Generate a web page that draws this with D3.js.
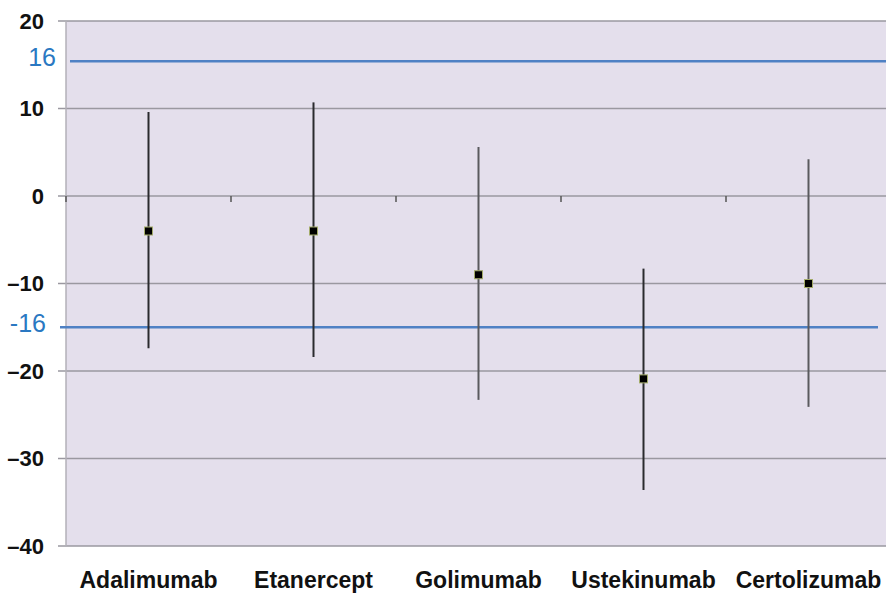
<!DOCTYPE html>
<html>
<head>
<meta charset="utf-8">
<style>
  body { margin: 0; background: #fff; }
  text { font-family: "Liberation Sans", Arial, sans-serif; }
</style>
</head>
<body>
<script src="https://cdn.jsdelivr.net/npm/d3@7"></script>
<script>

    const drugs = ["Adalimumab", "Etanercept", "Golimumab", "Ustekinumab", "Certolizumab"],
          point = [-4, -4, -9, -20.9, -10],
          upper = [9.6, 10.7, 5.6, -8.3, 4.2],
          lower = [-17.4, -18.4, -23.3, -33.6, -24.1],
          yTicks = [20, 10, 0, -10, -20, -30, -40];

    // margin lines, labelled +/-16 (drawn where the picture shows them)
    const limitValues = [15.4, -15.0],
          limitLabels = ["16", "-16"];

    const width = 886, height = 594;
    const plotLeft = 66, plotRight = 891, plotTop = 21, plotBottom = 546;

    const svg = d3.select("body").append("svg")
        .attr("width", width)
        .attr("height", height);

    const x = d3.scaleBand().domain(drugs).range([plotLeft, plotRight]);
    const y = d3.scaleLinear().domain([-40, 20]).range([plotBottom, plotTop]);

    // plot background
    svg.append("rect")
        .attr("x", plotLeft).attr("y", plotTop)
        .attr("width", plotRight - plotLeft).attr("height", plotBottom - plotTop)
        .attr("fill", "#e4dfec");

    // gridlines + y labels
    svg.selectAll("line.grid").data(yTicks).enter().append("line")
        .attr("class", "grid")
        .attr("x1", plotLeft - 8).attr("x2", plotRight)
        .attr("y1", d => y(d)).attr("y2", d => y(d))
        .attr("stroke", "#9a98a0")
        .attr("stroke-width", 1.3);

    svg.append("line")
        .attr("x1", plotLeft).attr("x2", plotLeft)
        .attr("y1", plotTop).attr("y2", plotBottom)
        .attr("stroke", "#b3b0b8")
        .attr("stroke-width", 1.5);

    svg.selectAll("text.ytick").data(yTicks).enter().append("text")
        .attr("class", "ytick")
        .attr("x", 44)
        .attr("y", d => y(d))
        .attr("dy", "0.36em")
        .attr("text-anchor", "end")
        .attr("font-size", 22)
        .attr("font-weight", "bold")
        .attr("fill", "#111")
        .text(d => d === 0 ? "0" : (d < 0 ? "\u2013" + Math.abs(d) : d));

    // category ticks along the zero line
    const boundaries = drugs.map(d => x(d));
    svg.selectAll("line.ctick").data(boundaries).enter().append("line")
        .attr("class", "ctick")
        .attr("x1", d => d).attr("x2", d => d)
        .attr("y1", y(0)).attr("y2", y(0) + 6)
        .attr("stroke", "#555")
        .attr("stroke-width", 1.5);

    // limit lines
    svg.selectAll("line.limit").data(limitValues).enter().append("line")
        .attr("class", "limit")
        .attr("x1", (d, i) => i === 0 ? plotLeft + 4 : plotLeft - 6)
        .attr("x2", (d, i) => i === 0 ? width : 878)
        .attr("y1", d => y(d)).attr("y2", d => y(d))
        .attr("stroke", "#4f81c4")
        .attr("stroke-width", 2.5);

    svg.selectAll("text.limit").data(limitValues).enter().append("text")
        .attr("class", "limit")
        .attr("x", (d, i) => i === 0 ? 56 : 46)
        .attr("y", d => y(d) - 4)
        .attr("dy", "0.36em")
        .attr("text-anchor", "end")
        .attr("font-size", 25)
        .attr("fill", "#2a78c2")
        .text((d, i) => limitLabels[i]);

    // error bars
    svg.selectAll("line.err").data(drugs).enter().append("line")
        .attr("class", "err")
        .attr("x1", d => x(d) + x.bandwidth() / 2)
        .attr("x2", d => x(d) + x.bandwidth() / 2)
        .attr("y1", (d, i) => y(upper[i]))
        .attr("y2", (d, i) => y(lower[i]))
        .attr("stroke", (d, i) => i === 2 || i === 4 ? "#5a5a5e" : "#2a2a2e")
        .attr("stroke-width", 2);

    // point estimates
    svg.selectAll("rect.pt").data(drugs).enter().append("rect")
        .attr("class", "pt")
        .attr("x", d => x(d) + x.bandwidth() / 2 - 4)
        .attr("y", (d, i) => y(point[i]) - 4)
        .attr("width", 8).attr("height", 8)
        .attr("fill", "#000")
        .attr("stroke", "#a4ac6a")
        .attr("stroke-width", 1);

    // category labels
    svg.selectAll("text.cat").data(drugs).enter().append("text")
        .attr("class", "cat")
        .attr("x", d => x(d) + x.bandwidth() / 2)
        .attr("y", 588)
        .attr("text-anchor", "middle")
        .attr("font-size", 23)
        .attr("font-weight", "bold")
        .attr("fill", "#111")
        .text(d => d);
</script>
</body>
</html>
